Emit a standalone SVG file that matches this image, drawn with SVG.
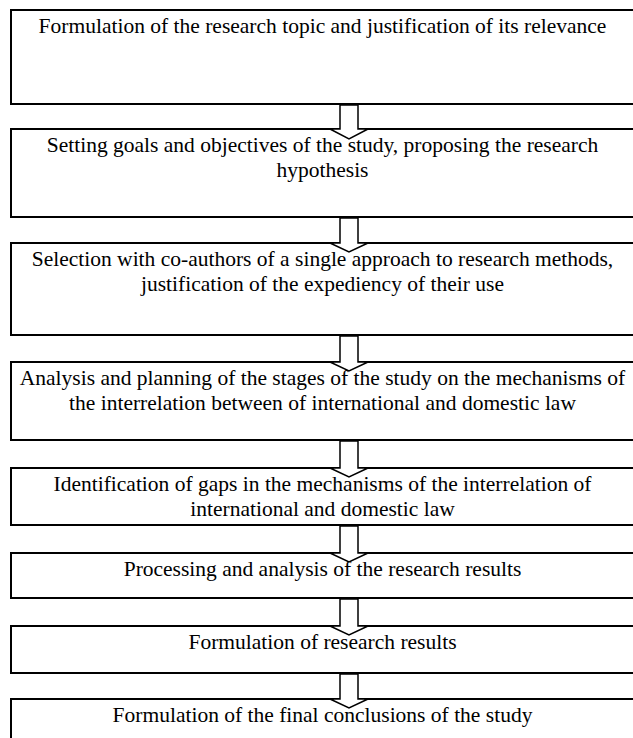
<svg xmlns="http://www.w3.org/2000/svg" width="633" height="738" viewBox="0 0 633 738">
<style>
.box{fill:#fff;stroke:#000;stroke-width:2}
.arr{fill:#fff;stroke:#000;stroke-width:1.5;stroke-linejoin:miter}
text{font-family:"Liberation Serif","Times New Roman",serif;font-size:21.5px;fill:#000;text-anchor:middle}
</style>
<rect width="633" height="738" fill="#fff"/>
<g id="n1"><rect class="box" x="11" y="10" width="625" height="94"/><text x="322.5" y="33">Formulation of the research topic and justification of its relevance</text></g>
<g id="n2"><rect class="box" x="11" y="129" width="625" height="88"/><text x="322.5" y="152">Setting goals and objectives of the study, proposing the research</text><text x="322.5" y="177">hypothesis</text></g>
<g id="n3"><rect class="box" x="11" y="243" width="625" height="92"/><text x="322.5" y="266">Selection with co-authors of a single approach to research methods,</text><text x="322.5" y="291">justification of the expediency of their use</text></g>
<g id="n4"><rect class="box" x="11" y="362" width="625" height="78"/><text x="322.5" y="385">Analysis and planning of the stages of the study on the mechanisms of</text><text x="322.5" y="410">the interrelation between of international and domestic law</text></g>
<g id="n5"><rect class="box" x="11" y="468" width="625" height="57"/><text x="322.5" y="491">Identification of gaps in the mechanisms of the interrelation of</text><text x="322.5" y="516">international and domestic law</text></g>
<g id="n6"><rect class="box" x="11" y="553" width="625" height="45"/><text x="322.5" y="576">Processing and analysis of the research results</text></g>
<g id="n7"><rect class="box" x="11" y="626" width="625" height="47"/><text x="322.5" y="649">Formulation of research results</text></g>
<g id="n8"><rect class="box" x="11" y="699" width="625" height="50"/><text x="322.5" y="722">Formulation of the final conclusions of the study</text></g>
<g id="connectors">
<path class="arr" d="M340,105 H358 V129 H368 L349,139 L330,129 H340 Z"/>
<path class="arr" d="M340,218 H358 V243 H368 L349,252 L330,243 H340 Z"/>
<path class="arr" d="M340,336 H358 V362 H368 L349,371 L330,362 H340 Z"/>
<path class="arr" d="M340,441 H358 V468 H368 L349,477 L330,468 H340 Z"/>
<path class="arr" d="M340,526 H358 V553 H368 L349,562 L330,553 H340 Z"/>
<path class="arr" d="M340,599 H358 V626 H368 L349,635 L330,626 H340 Z"/>
<path class="arr" d="M340,674 H358 V699 H368 L349,708 L330,699 H340 Z"/>
</g>
</svg>
